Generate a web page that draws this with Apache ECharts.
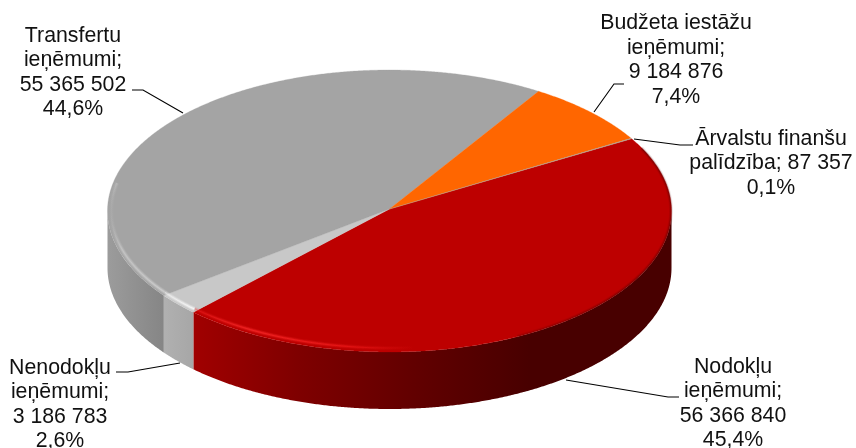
<!DOCTYPE html>
<html>
<head>
<meta charset="utf-8">
<style>html,body{margin:0;padding:0;background:#fff}#c{width:856px;height:448px}</style>
<script src="https://cdn.jsdelivr.net/npm/echarts@6/dist/echarts.min.js"></script>
</head>
<body>
<div id="c"></div>
<script>
// ---- data ----
const categories = ["Nodokļu ieņēmumi", "Nenodokļu ieņēmumi", "Transfertu ieņēmumi", "Budžeta iestāžu ieņēmumi", "Ārvalstu finanšu palīdzība"];
const values = [56366840, 3186783, 55365502, 9184876, 87357];
const labelTexts = [
  "Nodokļu\nieņēmumi;\n56 366 840\n45,4%",
  "Nenodokļu\nieņēmumi;\n3 186 783\n2,6%",
  "Transfertu\nieņēmumi;\n55 365 502\n44,6%",
  "Budžeta iestāžu\nieņēmumi;\n9 184 876\n7,4%",
  "Ārvalstu finanšu\npalīdzība; 87 357\n0,1%"
];
const topColors = ["#bd0000", "#c8c8c8", "#a4a4a4", "#ff6600", "#b0a090"];

// ---- layout / style ----
const CX = 389.5, CY = 211, RX = 282, RY = 141, DEPTH = 57, START = -30.2, PERSPECTIVE = 1.2;
const labelPos = [[733, 403.5], [60, 404.5], [73, 72.5], [676, 60], [771, 163.5]];
const leaders = [
  [[566, 380], [668, 397], [679, 397]],
  [[116, 372], [128, 372], [180, 363]],
  [[132, 90], [143, 90], [183, 113]],
  [[624, 84], [614, 84], [594, 112]],
  [[634, 139], [680, 145], [693, 145]]
];
const sideStops = [
  [[195, "#a00000"], [300, "#7e0000"], [430, "#5e0000"], [530, "#480000"], [672, "#480000"]],
  [[165, "#b0b0b0"], [195, "#a6a6a6"]],
  [[107, "#9c9c9c"], [165, "#858585"]],
  [], []
];
// soft bevel lines along the front rim of the top face
const rims = [
  {from: 84, to: 133.6, inset: 4, w: 2, stops: [[195, "rgba(255,40,40,0.35)"], [250, "rgba(255,45,45,0.85)"], [340, "rgba(255,35,35,0.6)"], [415, "rgba(255,30,30,0)"]]},
  {from: 133.6, to: 143, inset: 3.5, w: 2.2, stops: [[165, "rgba(240,240,240,0.8)"], [195, "rgba(255,255,255,0.95)"]]},
  {from: 143, to: 192, inset: 3.5, w: 2.4, stops: [[109, "rgba(200,200,200,0)"], [122, "rgba(205,205,205,0.75)"], [168, "rgba(215,215,215,0.85)"]]},
  {from: -26, to: 62, inset: 0.5, w: 1.8, stops: [[500, "rgba(70,0,0,0.2)"], [640, "rgba(70,0,0,0.5)"], [672, "rgba(70,0,0,0.4)"]]}
];

const total = values.reduce((a, b) => a + b, 0);
const px = (t, dy = 0, inset = 0) => {
  const r0 = t * Math.PI / 180;
  const r = (t + PERSPECTIVE * Math.sin(r0)) * Math.PI / 180;
  return [CX + (RX - inset) * Math.cos(r), CY + (RY - inset) * Math.sin(r) + dy];
};
const arc = (a, b, dy = 0, inset = 0) => {
  const pts = [], n = Math.max(2, Math.ceil(Math.abs(b - a) * 3));
  for (let i = 0; i <= n; i++) pts.push(px(a + (b - a) * i / n, dy, inset));
  return pts;
};
const grad = (stops) => {
  const x0 = stops[0][0], x1 = stops[stops.length - 1][0];
  return new echarts.graphic.LinearGradient(x0, 0, x1, 0,
    stops.map(s => ({offset: (s[0] - x0) / (x1 - x0), color: s[1]})), true);
};

function renderItem(params, api) {
  const i = params.dataIndex, children = [];
  let before = 0;
  for (let k = 0; k < i; k++) before += values[k];
  const a = START + before / total * 360;
  const b = a + api.value(0) / total * 360;
  // front wall (only the part facing the viewer: 0..180 degrees)
  const sa = Math.max(a, 0), sb = Math.min(b, 180);
  if (sb > sa && sideStops[i].length) {
    children.push({type: 'polygon', z2: 1,
      shape: {points: arc(sa, sb).concat(arc(sb, sa, DEPTH))},
      style: {fill: grad(sideStops[i]), stroke: null}});
  }
  // top face
  children.push({type: 'polygon', z2: 2,
    shape: {points: [[CX, CY - 2]].concat(arc(a, b))},
    style: {fill: topColors[i], stroke: topColors[i], lineWidth: 0.3}});
  return {type: 'group', children};
}

function renderOverlay(params, api) {
  const i = params.dataIndex, children = [];
  if (i === 0) {
    rims.forEach(r => {
      const pts = arc(r.from, r.to, 0, r.inset);
      [[r.w + 2.2, 0.22], [r.w + 0.6, 0.4], [r.w * 0.5, 0.7]].forEach((layer, j) => {
        children.push({type: 'polyline', z2: 3 + j * 0.1, shape: {points: pts},
          style: {fill: null, stroke: grad(r.stops), lineWidth: layer[0], opacity: layer[1]}});
      });
    });
  }
  children.push({type: 'polyline', z2: 5, shape: {points: leaders[i]},
    style: {fill: null, stroke: '#000', lineWidth: 1.1}});
  children.push({type: 'text', z2: 6,
    style: {text: labelTexts[i], x: labelPos[i][0], y: labelPos[i][1],
      align: 'center', verticalAlign: 'middle',
      font: '21.3px "Liberation Sans", Arial, sans-serif', lineHeight: 24.5, fill: '#111'}});
  return {type: 'group', children};
}

const chart = echarts.init(document.getElementById('c'), null, {renderer: 'canvas'});
const data = categories.map((name, i) => ({name, value: values[i]}));
chart.setOption({
  animation: false,
  backgroundColor: '#ffffff',
  tooltip: {show: false},
  series: [
    {type: 'custom', coordinateSystem: 'none', renderItem, data, silent: true, z: 1},
    {type: 'custom', coordinateSystem: 'none', renderItem: renderOverlay, data, silent: true, z: 2}
  ]
});
</script>
</body>
</html>
